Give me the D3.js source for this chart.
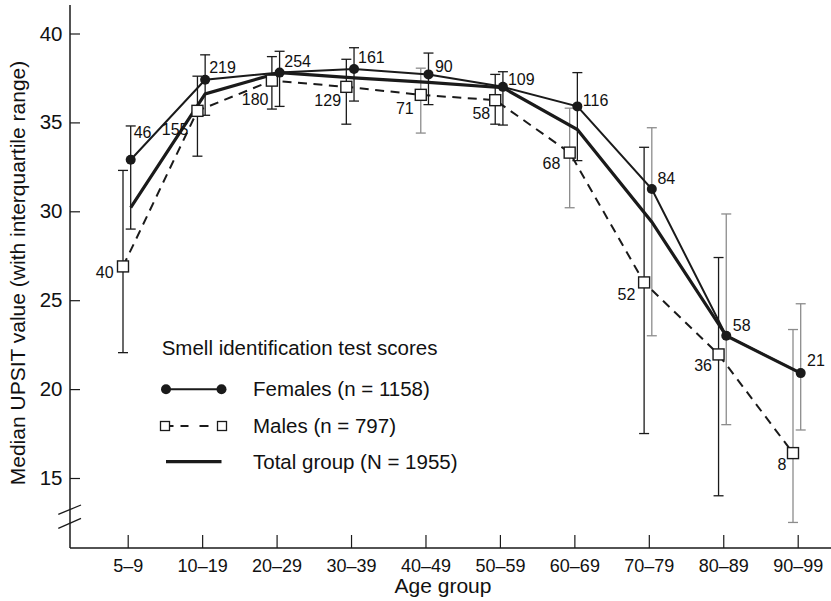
<!DOCTYPE html>
<html><head><meta charset="utf-8">
<script src="https://cdn.jsdelivr.net/npm/d3@7"></script>
<style>
body{margin:0;background:#fff}
svg{display:block}
text{font-family:"Liberation Sans",Arial,Helvetica,sans-serif;fill:#111}
</style>
</head><body>
<svg id="c" width="831" height="601"></svg>
<script>
// ---------------- data ----------------
const ageGroups = ["5–9","10–19","20–29","30–39","40–49","50–59","60–69","70–79","80–89","90–99"];
const femaleMedian = [32.9, 37.4, 37.8, 38.0, 37.7, 37.0, 35.9, 31.25, 23.0, 20.9];
const femaleQ1     = [29.0, 35.4, 35.9, 36.2, 36.0, 34.85, 32.85, 23.0, 18.0, 17.7];
const femaleQ3     = [34.8, 38.8, 39.0, 39.2, 38.9, 37.85, 37.8, 34.7, 29.85, 24.8];
const femaleN      = [46, 219, 254, 161, 90, 109, 116, 84, 58, 21];
const maleMedian   = [26.9, 35.65, 37.35, 37.0, 36.55, 36.25, 33.3, 26.0, 21.95, 16.4];
const maleQ1       = [22.05, 33.1, 35.75, 34.9, 34.4, 34.9, 30.2, 17.5, 14.0, 12.5];
const maleQ3       = [32.3, 37.6, 38.7, 38.55, 38.05, 37.7, 35.8, 33.6, 27.4, 23.35];
const maleN        = [40, 155, 180, 129, 71, 58, 68, 52, 36, 8];
const totalMedian  = [30.2, 36.6, 37.8, 37.5, 37.25, 36.95, 34.6, 29.4, 23.0, 20.9];
const yTicks = [15, 20, 25, 30, 35, 40];
const legendTitle = "Smell identification test scores";
const legendLabels = ["Females (n = 1158)", "Males (n = 797)", "Total group (N = 1955)"];

// ---------------- layout / style ----------------
const femaleBarGray = [0,0,0,0,0,0,0,1,1,1];
const maleBarGray   = [0,0,0,0,1,0,1,0,0,1];
const femaleLabelDx = [3, 4, 4.7, 4, 6.4, 5, 5.4, 5.6, 6.6, 6.4];
const femaleLabelDy = [-21.5, -6.5, -5.7, -6, -2.5, -2, 0, -5.5, -4.7, -7];
const maleLabelDx   = [-9.4, -9, -3.4, -5.3, -7, -5, -9.3, -8.7, -6.6, -6.6];
const maleLabelDy   = [12, 24.5, 24.8, 18.8, 18.8, 18.8, 16, 17.8, 16.5, 17.2];

const svg = d3.select("#c");
const x = d3.scalePoint().domain(ageGroups).range([127.7, 797.7]);
const y = d3.scaleLinear().domain([15, 40]).range([478, 33.5]);
const fOff = 3, mOff = -4.7, tOff = 3;
const AX = 70, AY = 548;
const DARK = "#1a1a1a", GRAY = "#8c8c8c";

// axes
const yAxis = svg.append("g").attr("transform", `translate(${AX},0)`)
  .call(d3.axisLeft(y).tickValues(yTicks).tickSizeInner(-10).tickSizeOuter(0).tickPadding(7.5));
yAxis.select(".domain").remove();
yAxis.selectAll("line").attr("stroke", DARK).attr("stroke-width", 1.2);
yAxis.selectAll("text").attr("font-size", 20.5).attr("fill", "#111")
  .style("font-family", '"Liberation Sans",Arial,sans-serif');

const xAxis = svg.append("g").attr("transform", `translate(0,${AY})`)
  .call(d3.axisBottom(x).tickSizeInner(-13).tickSizeOuter(0).tickPadding(11));
xAxis.select(".domain").remove();
xAxis.selectAll("line").attr("stroke", DARK).attr("stroke-width", 1.2);
xAxis.selectAll("text").attr("font-size", 18).attr("fill", "#111")
  .style("font-family", '"Liberation Sans",Arial,sans-serif');

// axis lines
svg.append("line").attr("x1", AX).attr("x2", AX).attr("y1", 5).attr("y2", AY)
  .attr("stroke", DARK).attr("stroke-width", 1.5);
svg.append("line").attr("x1", AX).attr("x2", 831).attr("y1", AY).attr("y2", AY)
  .attr("stroke", DARK).attr("stroke-width", 1.5);
// axis break marks
[[514.3,505],[528.3,518.3]].forEach(([a,b]) => {
  svg.append("line").attr("x1", 58.3).attr("y1", a).attr("x2", 81).attr("y2", b)
    .attr("stroke", DARK).attr("stroke-width", 1.3);
});

// axis titles
svg.append("text").attr("x", 443).attr("y", 593).attr("text-anchor", "middle")
  .attr("font-size", 21).text("Age group");
svg.append("text").attr("transform", "translate(25,273) rotate(-90)")
  .attr("text-anchor", "middle").attr("font-size", 21)
  .text("Median UPSIT value (with interquartile range)");

// error bars
function errorBars(q1, q3, off, grayFlags) {
  const g = svg.append("g");
  ageGroups.forEach((c, i) => {
    const cx = x(c) + off;
    const col = grayFlags[i] ? GRAY : DARK;
    g.append("line").attr("x1", cx).attr("x2", cx).attr("y1", y(q1[i])).attr("y2", y(q3[i]))
      .attr("stroke", col).attr("stroke-width", 1.3);
    [q1[i], q3[i]].forEach(v => {
      g.append("line").attr("x1", cx - 5).attr("x2", cx + 5).attr("y1", y(v)).attr("y2", y(v))
        .attr("stroke", col).attr("stroke-width", 1.3);
    });
  });
}
errorBars(maleQ1, maleQ3, mOff, maleBarGray);
errorBars(femaleQ1, femaleQ3, fOff, femaleBarGray);

// lines
const line = (vals, off) => d3.line().x((d, i) => x(ageGroups[i]) + off).y(d => y(d))(vals);
svg.append("path").attr("d", line(maleMedian, mOff)).attr("fill", "none")
  .attr("stroke", DARK).attr("stroke-width", 2).attr("stroke-dasharray", "9,6.5");
svg.append("path").attr("d", line(femaleMedian, fOff)).attr("fill", "none")
  .attr("stroke", DARK).attr("stroke-width", 2);
svg.append("path").attr("d", line(totalMedian, tOff)).attr("fill", "none")
  .attr("stroke", DARK).attr("stroke-width", 3.2);

// markers
ageGroups.forEach((c, i) => {
  const mx = x(c) + mOff, my = y(maleMedian[i]);
  svg.append("rect").attr("x", mx - 5.5).attr("y", my - 5.5).attr("width", 11).attr("height", 11)
    .attr("fill", "#fff").attr("stroke", DARK).attr("stroke-width", 1.4);
  svg.append("circle").attr("cx", x(c) + fOff).attr("cy", y(femaleMedian[i])).attr("r", 5)
    .attr("fill", DARK);
});

// n labels
ageGroups.forEach((c, i) => {
  svg.append("text").attr("x", x(c) + fOff + femaleLabelDx[i])
    .attr("y", y(femaleMedian[i]) + femaleLabelDy[i]).attr("font-size", 16).text(femaleN[i]);
  svg.append("text").attr("x", x(c) + mOff + maleLabelDx[i])
    .attr("y", y(maleMedian[i]) + maleLabelDy[i]).attr("text-anchor", "end")
    .attr("font-size", 16).text(maleN[i]);
});

// legend
const lg = svg.append("g");
lg.append("text").attr("x", 161.7).attr("y", 355).attr("font-size", 20.5).text(legendTitle);
const lx1 = 166, lx2 = 221.5, tx = 253;
const rows = [389.3, 426, 461.7];
// females
lg.append("line").attr("x1", lx1).attr("x2", lx2).attr("y1", rows[0]).attr("y2", rows[0])
  .attr("stroke", DARK).attr("stroke-width", 2);
[lx1, lx2].forEach(px => lg.append("circle").attr("cx", px).attr("cy", rows[0]).attr("r", 5).attr("fill", DARK));
// males
lg.append("line").attr("x1", 169.5).attr("x2", 216.5).attr("y1", rows[1]).attr("y2", rows[1])
  .attr("stroke", DARK).attr("stroke-width", 2).attr("stroke-dasharray", "4,7,8,11,9,20");
[lx1 - 1, lx2 + 0.5].forEach(px => lg.append("rect").attr("x", px - 4.5).attr("y", rows[1] - 4.5)
  .attr("width", 9).attr("height", 9).attr("fill", "#fff").attr("stroke", DARK).attr("stroke-width", 1.3));
// total
lg.append("line").attr("x1", lx1).attr("x2", lx2).attr("y1", rows[2]).attr("y2", rows[2])
  .attr("stroke", DARK).attr("stroke-width", 3.2);
legendLabels.forEach((t, i) => lg.append("text").attr("x", tx).attr("y", rows[i] + 7)
  .attr("font-size", 20.5).text(t));
</script>
</body></html>
